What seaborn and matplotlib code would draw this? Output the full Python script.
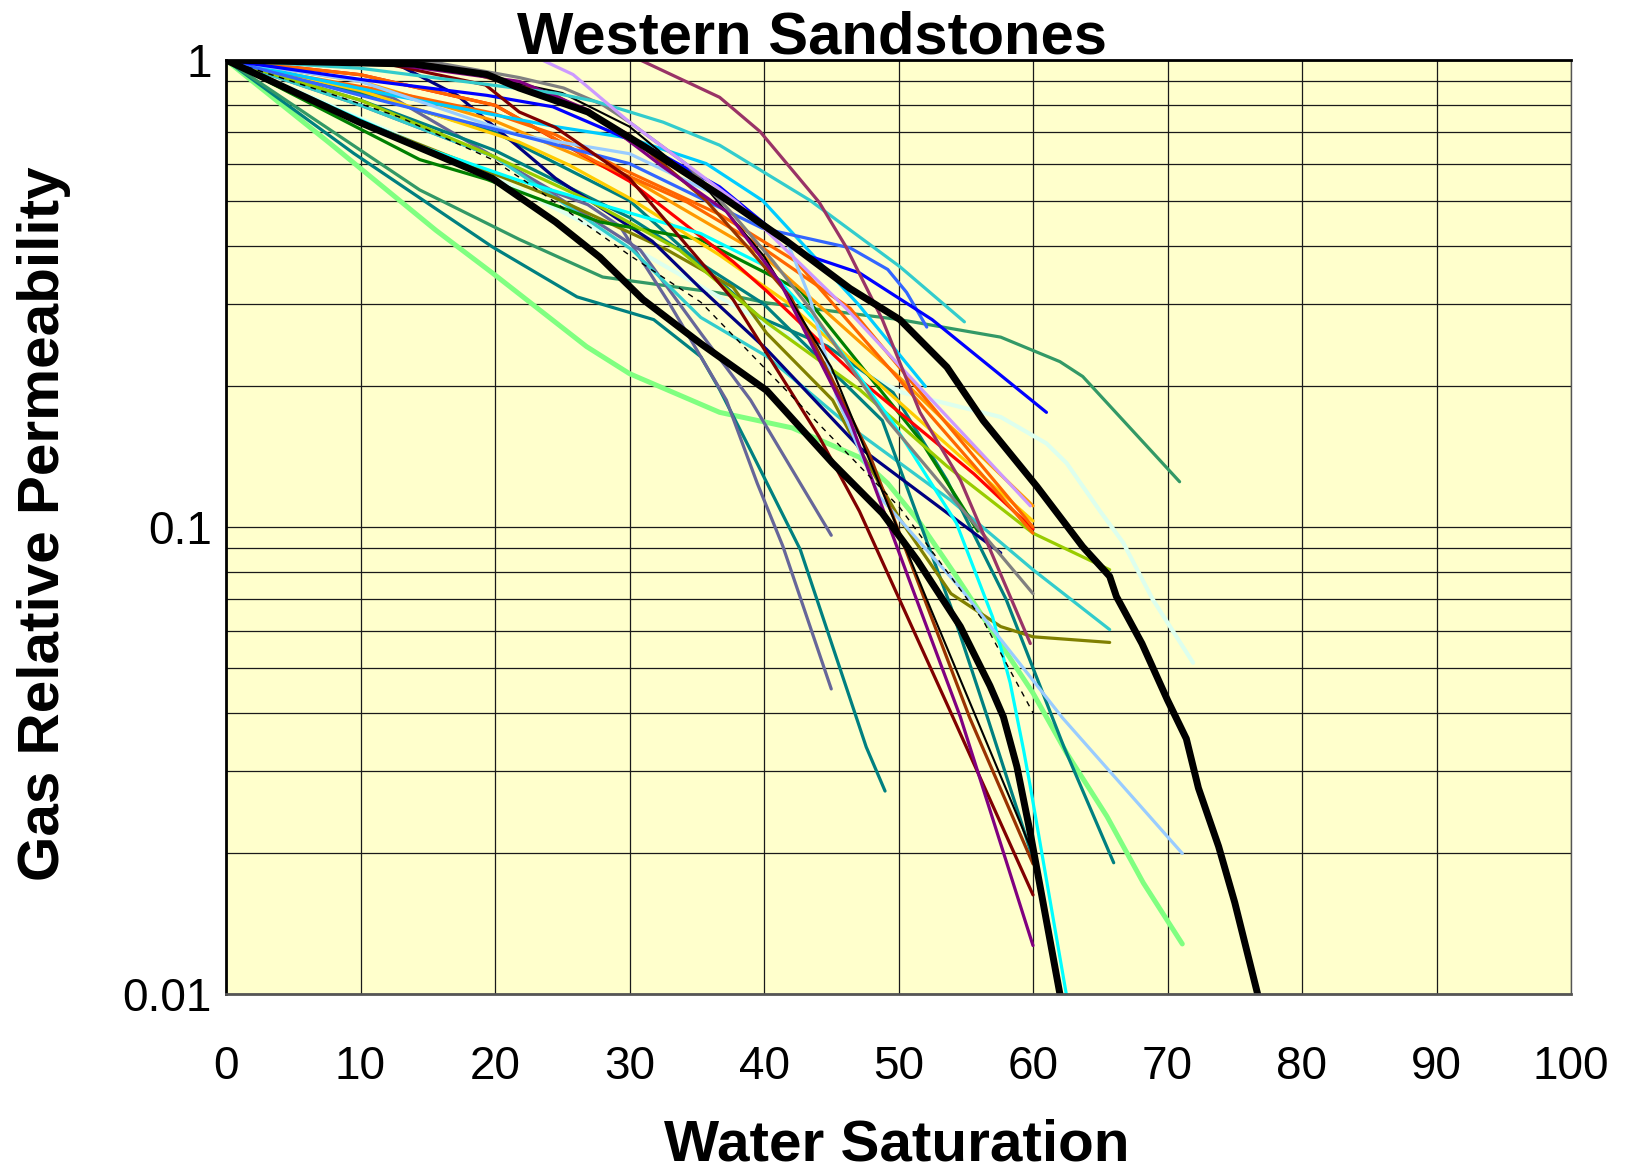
import matplotlib
matplotlib.use("Agg")
import matplotlib.pyplot as plt
import seaborn as sns
import numpy as np
from matplotlib.ticker import FixedLocator, NullFormatter, LogLocator

# ---------------- data (Water saturation %, gas relative permeability) ----------------
sw_black_hi = [0, 14.0, 19.4, 21.8, 26.9, 31.7, 36.7, 41.7, 46.4, 50.1, 53.6, 56.3, 60.3, 63.7, 65.7, 66.2, 68.1, 70.0, 71.4, 72.3, 73.8, 75.0, 76.7]
kr_black_hi = [1, .98, .931, .871, .774, .637, .514, .409, .324, .278, .220, .169, .122, .0907, .0784, .071, .0563, .0426, .0352, .0276, .0207, .0157, .0100]

sw_black_lo = [0, 9.9, 19.8, 24.5, 27.8, 31.0, 35.3, 40.2, 45.1, 48.8, 51.4, 54.6, 56.8, 57.8, 58.8, 59.8, 62.0]
kr_black_lo = [1, .736, .558, .45, .378, .307, .247, .196, .137, .107, .0848, .0612, .0457, .0392, .0307, .0221, .0100]

sw_lightgreen = [0, 7.7, 15.6, 19.8, 26.8, 30.0, 36.7, 42.1, 47.1, 49.2, 51.6, 54.3, 60.0, 62.5, 65.5, 68.2, 71.1]
kr_lightgreen = [1, .664, .432, .350, .2435, .213, .176, .163, .141, .124, .102, .0784, .0441, .0328, .0240, .0173, .0128]

sw_teal1 = [0, 9.5, 19.8, 26.1, 31.8, 35.3, 36.7, 39.0, 42.7, 47.6, 49.0]
kr_teal1 = [1, .631, .398, .311, .278, .2316, .197, .146, .0894, .0338, .0272]

sw_seagreen = [0, 14.4, 21.8, 28.0, 36.7, 40.2, 50.1, 57.6, 62.0, 63.7, 70.9]
kr_seagreen = [1, .527, .413, .343, .317, .302, .278, .255, .226, .210, .125]

sw_green = [0, 14.4, 19.4, 27.8, 35.3, 42.7, 51.6, 55.9]
kr_green = [1, .612, .555, .450, .412, .321, .154, .098]

sw_cyan = [0, 14.4, 21.8, 27.8, 35.3, 40.2, 45.1, 49.6, 54.3, 57.0, 58.3, 59.3, 59.8, 62.5]
kr_cyan = [1, .654, .552, .491, .425, .361, .251, .167, .102, .0641, .0464, .0333, .0278, .0099]

sw_blue = [0, 10.2, 19.4, 24.3, 31.8, 36.7, 42.7, 47.1, 52.5, 61.0]
kr_blue = [1, .907, .840, .794, .641, .535, .386, .350, .278, .176]

sw_royal = [0, 10, 21.8, 30.0, 39.9, 46.4, 49.2, 50.6, 52.1]
kr_royal = [1, .84, .69, .60, .436, .396, .356, .318, .268]

sw_turq1 = [0, 10, 24.5, 27.5, 32.5, 36.7, 43.4, 50.1, 54.9]
kr_turq1 = [1, .96, .849, .815, .736, .657, .501, .361, .275]

sw_mauve = [30.8, 36.7, 39.7, 44.1, 46.1, 48.8, 51.6, 54.6, 59.8]
kr_mauve = [1, .832, .703, .496, .398, .278, .176, .126, .0563]

sw_lavender = [23.5, 25.8, 30.0, 34.3, 38.0, 46.1, 59.8]
kr_lavender = [1, .931, .736, .596, .496, .294, .111]

sw_grey = [0, 15.4, 21.8, 25.1, 28.0, 30.0, 34.3, 37.7, 40.7, 43.4, 49.2, 60.0]
kr_grey = [1, .99, .917, .871, .802, .736, .596, .467, .370, .294, .169, .072]

sw_maroon = [0, 12.4, 19.3, 21.8, 24.5, 30.0, 37.7, 44.1, 47.1, 53.9, 60.0]
kr_maroon = [1, .975, .884, .774, .717, .558, .307, .156, .108, .0400, .0163]

sw_brown = [0, 15, 24.5, 30, 35.7, 38.7, 42, 47.8, 55.3, 60]
kr_brown = [1, .99, .84, .69, .50, .40, .31, .144, .039, .019]

sw_purple = [0, 11.1, 21.8, 27, 32.3, 37.2, 41.2, 46.4, 50.8, 54.6, 60]
kr_purple = [1, .99, .90, .78, .596, .474, .334, .169, .077, .0392, .0127]

sw_orange1 = [0, 4.9, 12.4, 19.8, 24.5, 29.3, 36.7, 42.4, 60]
kr_orange1 = [1, .931, .853, .770, .692, .587, .467, .370, .097]

sw_orange2 = [0, 10, 20, 27.5, 34.3, 39.2, 46.4, 60]
kr_orange2 = [1, .93, .80, .606, .496, .409, .294, .100]

sw_orange3 = [0, 10, 20, 30, 40, 50, 60]
kr_orange3 = [1, .90, .74, .56, .38, .21, .111]

sw_gold = [0, 10, 21.8, 25.5, 30.0, 36.7, 41.7, 60]
kr_gold = [1, .86, .667, .596, .506, .382, .303, .103]

sw_red = [0, 10, 20, 30, 37.7, 40.2, 47.1, 55.6, 60]
kr_red = [1, .93, .80, .55, .37, .32, .207, .130, .099]

sw_yellowgreen = [0, 10, 20, 27, 33.7, 40.2, 47.1, 53.6, 60, 65.7]
kr_yellowgreen = [1, .82, .62, .50, .392, .274, .197, .135, .097, .081]

sw_olive = [0, 10, 24.5, 32.8, 37.7, 40.2, 45.1, 46.4, 50.1, 53.9, 57.6, 60, 65.7]
kr_olive = [1, .74, .506, .392, .326, .260, .187, .159, .104, .072, .0612, .0582, .0566]

sw_navy = [0, 12.4, 17.2, 24.5, 31.7, 35.3, 40.2, 47.1, 57.6]
kr_navy = [1, .99, .840, .558, .409, .324, .240, .148, .088]

sw_lightblue = [0, 10, 21.8, 30, 36.7, 41.7, 43.4, 45.4, 48.6, 54.6, 62.2, 71.1]
kr_lightblue = [1, .90, .69, .63, .51, .41, .31, .19, .116, .074, .039, .020]

sw_skyblue = [0, 12.4, 24.5, 30, 35.7, 39.9, 47, 52]
kr_skyblue = [1, .84, .72, .68, .60, .50, .30, .20]

sw_pale = [0, 10, 20, 30, 41.4, 50.3, 57.6, 61.0, 62.5, 65.0, 66.7, 68.9, 71.9]
kr_pale = [1, .75, .56, .40, .260, .194, .172, .151, .137, .108, .0926, .070, .0512]

sw_dashed = [0, 7.4, 12.9, 19.8, 22.3, 30.0, 35.3, 50.1, 56.3, 60]
kr_dashed = [1, .853, .755, .612, .549, .382, .303, .110, .063, .040]

sw_slate1 = [0, 10, 20, 30.8, 35.3, 39.0, 45.0]
kr_slate1 = [1, .80, .62, .392, .260, .187, .096]

sw_slate2 = [0, 12.4, 24.5, 26.9, 29.3, 33.0, 37.2, 39.5, 41.4, 45.0]
kr_slate2 = [1, .83, .52, .49, .44, .30, .187, .124, .091, .045]

sw_teal2 = [0, 10, 20, 30, 39.7, 44.7, 49.6, 53.6, 58.0, 62.3, 66.0]
kr_teal2 = [1, .85, .70, .50, .281, .244, .194, .126, .070, .0338, .0191]

sw_teal3 = [0, 10, 20, 30, 40, 48.8, 53.9, 56.6, 60]
kr_teal3 = [1, .82, .64, .46, .30, .169, .0674, .0392, .0195]

sw_turq2 = [0, 10, 20, 30.2, 35.3, 40.2, 46.4, 53.9, 60.0, 65.7]
kr_turq2 = [1, .80, .62, .392, .281, .232, .164, .114, .081, .0603]

sw_blackthin = [0, 15, 25, 30, 36, 40, 45, 52.1, 60]
kr_blackthin = [1, .98, .85, .72, .52, .38, .22, .070, .020]

x_ticks = [0, 10, 20, 30, 40, 50, 60, 70, 80, 90, 100]
y_ticks = [0.01, 0.1, 1]
y_tick_labels = ["0.01", "0.1", "1"]

# ---------------- style ----------------
sns.set_style("white")
plt.rcParams['font.family'] = ['Liberation Sans', 'DejaVu Sans']
plt.rcParams.update({'text.color': 'black', 'axes.labelcolor': 'black',
                     'xtick.color': 'black', 'ytick.color': 'black'})

fig = plt.figure(figsize=(16.27, 11.70), dpi=100)
ax = fig.add_axes([226 / 1627, 1 - 994 / 1170, (1571 - 226) / 1627, (994 - 60) / 1170])
ax.set_facecolor('#FFFFCC')

LW = 2.3
series = [
    (sw_lightgreen, kr_lightgreen, '#80FF80', 3.6, '-'),
    (sw_teal1, kr_teal1, '#008080', LW, '-'),
    (sw_seagreen, kr_seagreen, '#339966', LW, '-'),
    (sw_pale, kr_pale, '#DDFFEE', 3.0, '-'),
    (sw_slate1, kr_slate1, '#666699', LW, '-'),
    (sw_slate2, kr_slate2, '#666699', LW, '-'),
    (sw_turq2, kr_turq2, '#33CCCC', LW, '-'),
    (sw_teal3, kr_teal3, '#008080', LW, '-'),
    (sw_teal2, kr_teal2, '#008080', LW, '-'),
    (sw_olive, kr_olive, '#808000', LW, '-'),
    (sw_navy, kr_navy, '#000080', LW, '-'),
    (sw_green, kr_green, '#008000', LW, '-'),
    (sw_yellowgreen, kr_yellowgreen, '#99CC00', LW, '-'),
    (sw_gold, kr_gold, '#FFCC00', LW, '-'),
    (sw_orange3, kr_orange3, '#FF9900', LW, '-'),
    (sw_red, kr_red, '#FF0000', LW, '-'),
    (sw_orange2, kr_orange2, '#FF6600', LW, '-'),
    (sw_orange1, kr_orange1, '#FF6600', LW, '-'),
    (sw_cyan, kr_cyan, '#00FFFF', LW, '-'),
    (sw_skyblue, kr_skyblue, '#00CCFF', LW, '-'),
    (sw_lightblue, kr_lightblue, '#99CCFF', LW, '-'),
    (sw_royal, kr_royal, '#3366FF', LW, '-'),
    (sw_blue, kr_blue, '#0000FF', LW, '-'),
    (sw_maroon, kr_maroon, '#800000', LW, '-'),
    (sw_brown, kr_brown, '#993300', LW, '-'),
    (sw_blackthin, kr_blackthin, '#000000', 1.5, '-'),
    (sw_purple, kr_purple, '#800080', LW, '-'),
    (sw_grey, kr_grey, '#808080', LW, '-'),
    (sw_turq1, kr_turq1, '#33CCCC', LW, '-'),
    (sw_lavender, kr_lavender, '#CC99FF', LW, '-'),
    (sw_mauve, kr_mauve, '#993366', LW, '-'),
    (sw_dashed, kr_dashed, '#000000', 1.0, (0, (4, 4))),
    (sw_black_lo, kr_black_lo, '#000000', 5.0, '-'),
    (sw_black_hi, kr_black_hi, '#000000', 5.0, '-'),
]

for sw, kr, col, lw, ls in series:
    sns.lineplot(x=sw, y=kr, color=col, linewidth=lw, linestyle=ls, sort=False,
                 estimator=None, ax=ax, legend=False)

ax.set_yscale('log')
ax.set_xlim(0, 100)
ax.set_ylim(0.01, 1)

# grid
ax.xaxis.set_major_locator(FixedLocator(x_ticks))
ax.yaxis.set_major_locator(FixedLocator(y_ticks))
ax.yaxis.set_minor_locator(LogLocator(base=10, subs=np.arange(2, 10)))
ax.yaxis.set_minor_formatter(NullFormatter())
ax.set_yticklabels(y_tick_labels)
ax.grid(True, which='major', axis='both', color='#1a1a1a', linewidth=0.9)
ax.grid(True, which='minor', axis='y', color='#1a1a1a', linewidth=0.9)
ax.set_axisbelow(True)

ax.tick_params(axis='x', which='major', direction='out', length=7, width=1.2,
               labelsize=33, pad=30, color='#555555')
ax.tick_params(axis='y', which='major', direction='out', length=6, width=1.2,
               labelsize=33, pad=4)
ax.tick_params(axis='y', which='minor', length=0)

for s in ['left', 'top']:
    ax.spines[s].set_color('black')
    ax.spines[s].set_linewidth(2.0)
ax.spines['bottom'].set_color('#555555')
ax.spines['bottom'].set_linewidth(2.0)
ax.spines['right'].set_color('#555555')
ax.spines['right'].set_linewidth(1.0)

fig.text(812 / 1627, 1 - 54 / 1170, "Western Sandstones", ha='center', va='baseline',
         fontsize=43, fontweight='bold', color='black')
fig.text(897 / 1627, 0.008, "Water Saturation", ha='center', va='baseline',
         fontsize=42, fontweight='bold', color='black')
fig.text(44 / 1627, 1 - 524 / 1170, "Gas Relative Permeability", ha='center', va='center',
         rotation=90, fontsize=42, fontweight='bold', color='black')

fig.savefig("out.png", dpi=100, facecolor='white')
